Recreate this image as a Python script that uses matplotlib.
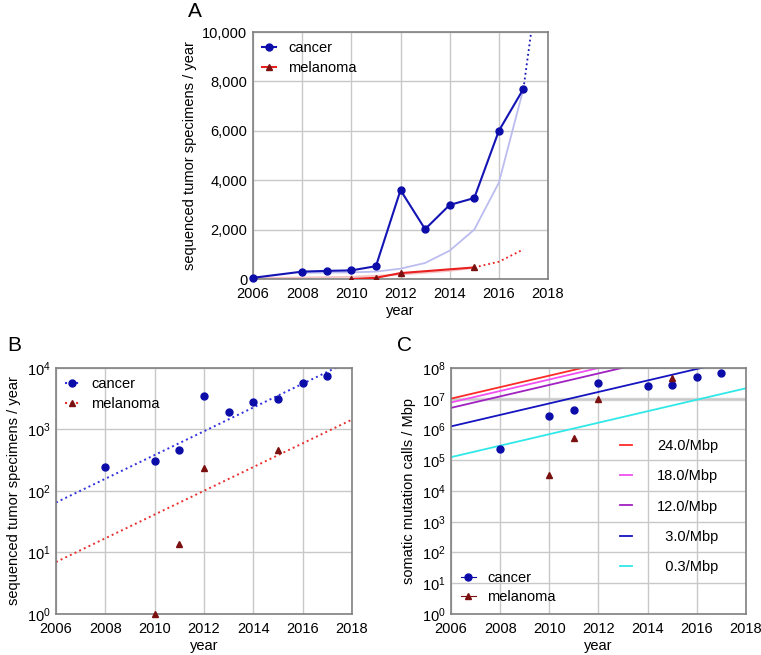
import numpy as np
import matplotlib.pyplot as plt
from matplotlib.ticker import FuncFormatter, FixedLocator, LogLocator

plt.rcParams['font.family'] = ['Liberation Sans', 'DejaVu Sans']
plt.rcParams['font.size'] = 10

# ---- data ----
# panel A (linear)
yearsA = [2006, 2008, 2009, 2010, 2011, 2012, 2013, 2014, 2015, 2016, 2017]
cancerA = [50, 300, 330, 350, 520, 3600, 2020, 3000, 3280, 6000, 7700]
cancer_ext_years = [2017, 2018]
cancer_ext = [7700, 15000]
trend_years = [2008, 2009, 2010, 2011, 2012, 2013, 2014, 2015, 2016, 2017]
cancer_trend = [250, 260, 270, 300, 420, 650, 1150, 2000, 3900, 7700]
mel_trend_years = [2006, 2008, 2010, 2012, 2014, 2015]
mel_trend = [40, 60, 90, 180, 330, 450]
yearsA_mel = [2010, 2011, 2012, 2015]
melA = [1, 50, 240, 470]
mel_ext_years = [2015, 2016, 2017]
mel_ext = [470, 700, 1200]

# panel B (log)
yearsB = [2008, 2010, 2011, 2012, 2013, 2014, 2015, 2016, 2017]
cancerB = [250, 310, 470, 3500, 1950, 2850, 3100, 5700, 7500]
yearsB_mel = [2010, 2011, 2012, 2015]
melB = [1, 14, 240, 470]
fit_years = [2006, 2018]
cancer_fit = [65, 13500]
mel_fit = [7, 1450]

# panel C (log)
yearsC = [2008, 2010, 2011, 2012, 2014, 2015, 2016, 2017]
cancerC = [2.3e5, 2.7e6, 4.3e6, 3.2e7, 2.6e7, 2.7e7, 5.2e7, 6.9e7]
yearsC_mel = [2010, 2011, 2012, 2015]
melC = [3.3e4, 5.3e5, 9.8e6, 4.6e7]
rates = [24.0, 18.0, 12.0, 3.0, 0.3]
rate_labels = ['24.0/Mbp', '18.0/Mbp', '12.0/Mbp', '  3.0/Mbp', '  0.3/Mbp']
rate_colors = ['#ff2a2a', '#f050f0', '#a020c0', '#1414c0', '#30e8e8']
calls_base = [4.2e5, 7.3e7]

blue = '#1414b4'
dark_blue = '#0c0ca8'
red = '#e82020'
dark_red = '#7a1010'
grid_col = '#c8c8c8'
spine_col = '#808080'

fig = plt.figure(figsize=(7.61, 6.55), dpi=100)
axA = fig.add_axes([0.3325, 0.574, 0.3876, 0.377])
axB = fig.add_axes([0.0736, 0.0626, 0.389, 0.3756])
axC = fig.add_axes([0.5926, 0.0626, 0.3876, 0.3756])


def style(ax):
    ax.grid(True, color=grid_col, lw=1.0)
    ax.set_axisbelow(True)
    for s in ax.spines.values():
        s.set_color(spine_col)
        s.set_linewidth(1.2)
    ax.tick_params(length=0, pad=4, labelsize=10.5)
    ax.tick_params(axis='x', pad=6)
    ax.set_xlim(2006, 2018)
    ax.set_xticks(range(2006, 2019, 2))
    ax.set_xlabel('year', fontsize=10.5, labelpad=2)


# ---- A ----
style(axA)
axA.plot(trend_years, cancer_trend, color='#bcbcf0', lw=1.3, zorder=2)
axA.plot(mel_trend_years, mel_trend, color='#f6c4c4', lw=1.3, zorder=2)
axA.plot(cancer_ext_years, cancer_ext, ':', color=blue, lw=1.3, zorder=3)
axA.plot(mel_ext_years, mel_ext, ':', color=red, lw=1.3, zorder=3)
axA.plot(yearsA, cancerA, '-o', color=blue, mfc=dark_blue, mec=dark_blue,
         ms=5, lw=1.5, label='cancer', zorder=4, clip_on=False)
axA.plot(yearsA_mel, melA, '-^', color=red, mfc=dark_red, mec=dark_red,
         ms=4, lw=1.5, label='melanoma', zorder=4)
axA.set_ylim(0, 10000)
axA.set_yticks(range(0, 10001, 2000))
axA.yaxis.set_major_formatter(FuncFormatter(lambda v, p: f'{int(v):,}'))
axA.set_ylabel('sequenced tumor specimens / year', fontsize=10.5)
axA.legend(loc='upper left', frameon=False, fontsize=10.5, handlelength=1.0,
           handletextpad=0.8, labelspacing=0.45, borderaxespad=0.2)
fig.text(0.247, 0.982, 'A', fontsize=15, va='center', ha='left')

# ---- B ----
style(axB)
axB.set_yscale('log')
axB.plot(fit_years, cancer_fit, ':', color='#3030e0', lw=1.4, zorder=2)
axB.plot(fit_years, mel_fit, ':', color='#e83030', lw=1.4, zorder=2)
axB.plot(yearsB, cancerB, 'o', color=dark_blue, ms=5, zorder=4,
         label='cancer')
axB.plot(yearsB_mel, melB, '^', color=dark_red, ms=4, zorder=4,
         label='melanoma', clip_on=False)
axB.set_ylim(1, 1e4)
axB.yaxis.set_major_locator(LogLocator(base=10, numticks=10))
axB.yaxis.set_minor_locator(FixedLocator([]))
axB.set_ylabel('sequenced tumor specimens / year', fontsize=10.5)
hb = [plt.Line2D([], [], ls=':', color='#3030e0', marker='o', mfc=dark_blue,
                 mec=dark_blue, ms=5),
      plt.Line2D([], [], ls=':', color='#e83030', marker='^', mfc=dark_red,
                 mec=dark_red, ms=4)]
axB.legend(hb, ['cancer', 'melanoma'], loc='upper left', frameon=False,
           fontsize=10.5, handlelength=1.0, handletextpad=0.8,
           labelspacing=0.45, borderaxespad=0.2)
fig.text(0.010, 0.473, 'B', fontsize=15, va='center', ha='left')

# ---- C ----
style(axC)
axC.set_yscale('log')
rate_handles = []
for r, lab, col in zip(rates, rate_labels, rate_colors):
    h, = axC.plot(fit_years, [r * b for b in calls_base], color=col, lw=1.3,
                  zorder=2, label=lab)
    rate_handles.append(h)
pc, = axC.plot(yearsC, cancerC, 'o', color=dark_blue, ms=5, zorder=4)
pm, = axC.plot(yearsC_mel, melC, '^', color=dark_red, ms=4, zorder=4)
axC.set_ylim(1, 1e8)
axC.yaxis.set_major_locator(LogLocator(base=10, numticks=12))
axC.yaxis.set_minor_locator(FixedLocator([]))
axC.axhline(1e7, color='#d6d6d6', lw=2.5, zorder=0)
axC.set_ylabel('somatic mutation calls / Mbp', fontsize=10.5)
hc = [plt.Line2D([], [], ls='-', color=dark_blue, marker='o', ms=5, lw=0.8),
      plt.Line2D([], [], ls='-', color=dark_red, marker='^', ms=4, lw=0.8)]
leg1 = axC.legend(hc, ['cancer', 'melanoma'], loc='lower left',
                  frameon=False, fontsize=10.5, handlelength=1.0,
                  handletextpad=0.8, labelspacing=0.35, borderaxespad=0.3)
axC.add_artist(leg1)
axC.legend(rate_handles, rate_labels, loc='upper left',
           bbox_to_anchor=(0.53, 0.765), frameon=False, fontsize=10.5,
           handlelength=0.8, handletextpad=1.7, labelspacing=1.12)
fig.text(0.522, 0.473, 'C', fontsize=15, va='center', ha='left')

fig.savefig('out.png', dpi=100)
